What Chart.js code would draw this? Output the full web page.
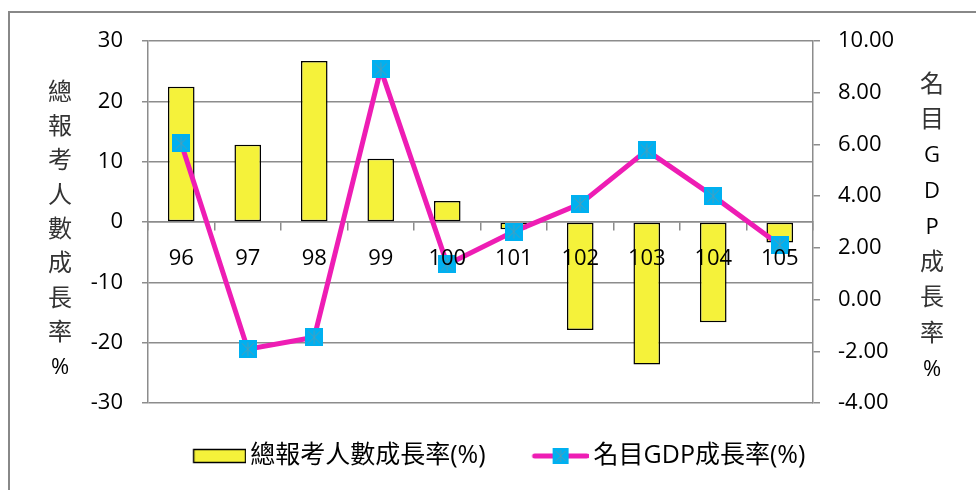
<!DOCTYPE html>
<html>
<head>
<meta charset="utf-8">
<script src="https://cdn.jsdelivr.net/npm/chart.js@4.4.1/dist/chart.umd.min.js"></script>
<style>
html,body{margin:0;padding:0;background:#fff;}
#wrap{width:976px;height:490px;position:relative;}
</style>
</head>
<body>
<div id="wrap"><canvas id="c"></canvas></div>
<script>
// ---- data ----
const categories = ['96','97','98','99','100','101','102','103','104','105'];
const applicantGrowth = [22.4, 12.8, 26.7, 10.5, 3.5, -1.2, -17.9, -23.6, -16.6, -3.4];
const gdpGrowth = [6.04, -1.92, -1.46, 8.90, 1.36, 2.63, 3.70, 5.77, 4.00, 2.11];
const leftRange = [-30, 30];
const leftStep = 10;
const rightRange = [-4, 10];
const rightStep = 2;
const barLabel = '總報考人數成長率(%)';
const lineLabel = '名目GDP成長率(%)';
const leftTitle = ['總','報','考','人','數','成','長','率','%'];
const rightTitle = ['名','目','G','D','P','成','長','率','%'];

// ---- styling ----
const FONT = "'Open Sans','Noto Sans CJK TC',sans-serif";
const GRID = '#8c8c8c';
const BAR_FILL = '#F5F23A';
const LINE_COLOR = '#EE1DB4';
const MARKER_FILL = '#00B0F0';
const MARKER_STAR = '#4E9DB8';

function makeMarker(size){
  const c = document.createElement('canvas');
  c.width = size; c.height = size;
  const g = c.getContext('2d');
  g.fillStyle = MARKER_FILL;
  g.fillRect(0,0,size,size);
  g.strokeStyle = MARKER_STAR; g.lineWidth = 1;
  g.beginPath();
  g.moveTo(3,3); g.lineTo(size-3,size-3);
  g.moveTo(size-3,3); g.lineTo(3,size-3);
  g.moveTo(size/2,2); g.lineTo(size/2,size-2);
  g.stroke();
  return c;
}
const marker = makeMarker(18);

function makeBarLegend(){
  const c = document.createElement('canvas');
  c.width = 72; c.height = 16;
  const g = c.getContext('2d');
  g.fillStyle = BAR_FILL;
  g.fillRect(19.5,1.5,52,13);
  g.strokeStyle = '#000'; g.lineWidth = 1.5;
  g.strokeRect(19.5,1.5,52,13);
  return c;
}
function makeLineLegend(){
  const c = document.createElement('canvas');
  c.width = 70; c.height = 18;
  const g = c.getContext('2d');
  g.strokeStyle = LINE_COLOR; g.lineWidth = 5; g.lineCap = 'round';
  g.beginPath(); g.moveTo(16,9); g.lineTo(68,9); g.stroke();
  const m = makeMarker(16);
  g.drawImage(m, 42-8, 1);
  return c;
}
const barLegendImg = makeBarLegend();
const lineLegendImg = makeLineLegend();

const framePlugin = {
  id: 'frame',
  beforeDraw(chart){
    const ctx = chart.ctx;
    ctx.save();
    ctx.fillStyle = '#fff';
    ctx.fillRect(0,0,chart.width,chart.height);
    ctx.strokeStyle = '#888'; ctx.lineWidth = 2;
    ctx.beginPath();
    ctx.moveTo(9, chart.height); ctx.lineTo(9, 12); ctx.lineTo(chart.width, 12);
    ctx.stroke();
    ctx.restore();
  },
  afterDraw(chart){
    const ctx = chart.ctx;
    ctx.save();
    ctx.textAlign = 'center';
    ctx.textBaseline = 'middle';
    const draw = (chars, x, y0, step) => {
      chars.forEach((ch, i) => {
        const latin = /[A-Za-z%]/.test(ch);
        ctx.font = (latin ? '22px ' : '24px ') + FONT;
        ctx.fillStyle = latin ? '#000' : '#333';
        ctx.fillText(ch, x, y0 + i*step);
      });
    };
    draw(leftTitle, 60, 93, 34.3);
    draw(rightTitle, 932, 85, 35.6);
    ctx.restore();
  }
};

new Chart(document.getElementById('c'), {
  type: 'bar',
  data: {
    labels: categories,
    datasets: [
      {
        type: 'bar',
        label: barLabel,
        data: applicantGrowth,
        yAxisID: 'y',
        backgroundColor: BAR_FILL,
        borderColor: '#000',
        borderWidth: 1.5,
        borderSkipped: false,
        barPercentage: 0.4,
        categoryPercentage: 1.0,
        order: 2
      },
      {
        type: 'line',
        label: lineLabel,
        data: gdpGrowth,
        yAxisID: 'y2',
        borderColor: LINE_COLOR,
        borderWidth: 5,
        tension: 0,
        pointStyle: marker,
        pointRadius: 9,
        fill: false,
        order: 1
      }
    ]
  },
  options: {
    responsive: true,
    maintainAspectRatio: false,
    animation: false,
    events: [],
    layout: { padding: { left: 12, right: 0, top: 41, bottom: 11.5 } },
    plugins: {
      tooltip: { enabled: false },
      legend: {
        position: 'bottom',
        align: 'center',
        labels: {
          usePointStyle: true,
          pointStyleWidth: 55,
          padding: 40.5,
          color: '#000',
          font: { family: FONT, size: 25 },
          sort: (a, b) => a.datasetIndex - b.datasetIndex,
          generateLabels(chart){
            const items = Chart.defaults.plugins.legend.labels.generateLabels(chart);
            items.forEach(it => {
              it.pointStyle = it.datasetIndex === 0 ? barLegendImg : lineLegendImg;
              it.lineWidth = 0;
            });
            return items;
          }
        }
      }
    },
    scales: {
      x: {
        type: 'category',
        position: { y: 0 },
        offset: true,
        grid: { display: true, drawOnChartArea: false, drawTicks: true, tickLength: 8, color: GRID, lineWidth: 1.5, offset: true },
        border: { display: true, color: GRID, width: 1.5 },
        ticks: { z: 1, padding: 16, maxRotation: 0, autoSkip: false, color: '#000', font: { family: FONT, size: 22 } }
      },
      y: {
        position: 'left',
        min: leftRange[0], max: leftRange[1],
        ticks: { stepSize: leftStep, padding: 19, color: '#000', font: { family: FONT, size: 22 } },
        grid: { color: GRID, lineWidth: 1.5, tickLength: 6 },
        border: { color: GRID, width: 1.5 },
        afterFit(s){ s.width = 136; }
      },
      y2: {
        position: 'right',
        min: rightRange[0], max: rightRange[1],
        ticks: { stepSize: rightStep, padding: 18, color: '#000', font: { family: FONT, size: 22 }, callback: v => Number(v).toFixed(2) },
        grid: { drawOnChartArea: false, color: GRID, lineWidth: 1.5, tickLength: 7 },
        border: { color: GRID, width: 1.5 },
        afterFit(s){ s.width = 163; }
      }
    }
  },
  plugins: [framePlugin]
});
</script>
</body>
</html>
